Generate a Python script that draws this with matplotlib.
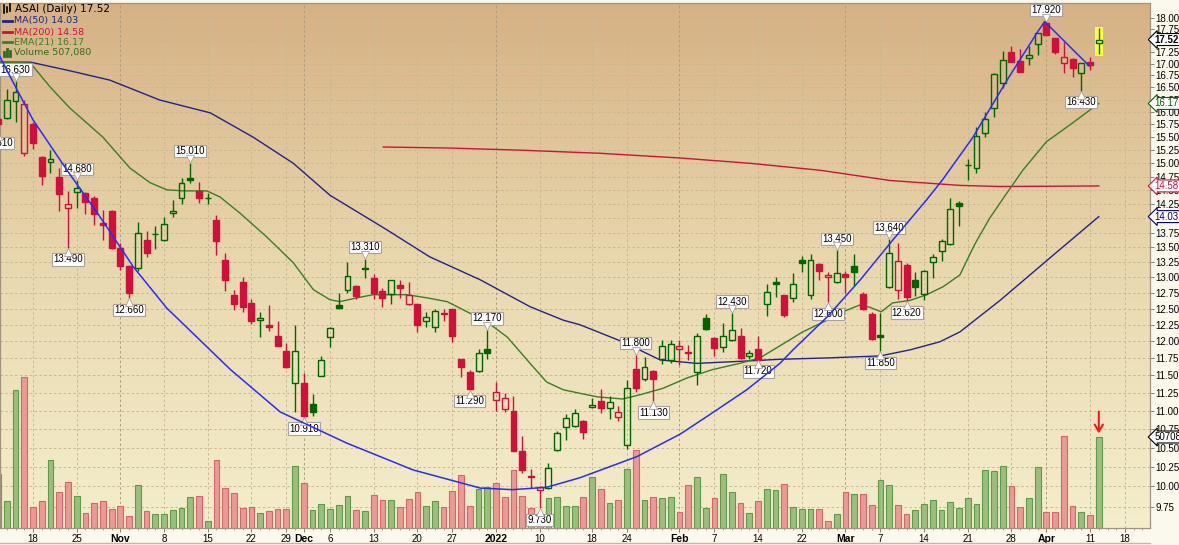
import numpy as np
import matplotlib
matplotlib.use("Agg")
import matplotlib.pyplot as plt
from matplotlib.transforms import blended_transform_factory, offset_copy
from matplotlib.lines import Line2D
from matplotlib.colors import LinearSegmentedColormap
from matplotlib.ticker import NullLocator, NullFormatter

plt.rcParams['font.family'] = ['Liberation Sans', 'DejaVu Sans']

# ---------------- data (trading-day index, 0 = 2021-10-18) ----------------
bar_idx = list(range(-4, 123))
opens = [15.85, 15.87, 16.21, 15.19, 15.76, 15.12, 15.02, 14.75, 14.18, 14.47,
         14.46, 14.36, 13.91, 14.13, 13.48, 13.19, 13.15, 13.62, 13.72, 13.62,
         14.09, 14.37, 14.72, 14.49, 14.36, 13.97, 13.29, 12.72, 12.93, 12.59,
         12.32, 12.25, 12.08, 11.86, 11.38, 11.38, 11.09, 11.49, 12.06, 12.55,
         12.80, 12.86, 13.14, 12.99, 12.78, 12.73, 12.88, 12.58, 12.57, 12.31,
         12.21, 12.43, 12.49, 11.73, 11.54, 11.56, 11.88, 11.14, 11.02, 10.99,
         10.45, 10.13, 9.95, 9.98, 10.47, 10.77, 10.79, 10.85, 11.05, 11.13,
         11.03, 10.91, 10.53, 11.59, 11.44, 11.56, 11.73, 11.72, 11.88, 11.84,
         11.55, 12.36, 12.05, 11.91, 12.01, 12.08, 11.78, 11.88, 12.57, 12.93,
         12.71, 12.66, 13.29, 12.72, 13.22, 13.00, 12.92, 13.05, 13.19, 12.73,
         12.41, 12.09, 12.84, 12.80, 13.20, 12.95, 12.73, 13.25, 13.44, 13.55,
         14.28, 14.96, 14.92, 15.58, 16.08, 16.58, 17.24, 17.05, 17.11, 17.43,
         17.88, 17.55, 17.02, 17.09, 16.80, 17.03, 17.45]
highs = [16.05, 16.46, 16.63, 16.23, 15.80, 15.14, 15.25, 14.91, 14.49, 14.68,
         14.47, 14.39, 14.15, 14.14, 13.57, 13.20, 13.93, 13.78, 13.87, 14.03,
         14.33, 14.72, 15.01, 14.66, 14.45, 14.06, 13.41, 12.79, 13.01, 12.65,
         12.45, 12.56, 12.30, 11.97, 12.25, 11.53, 11.23, 11.78, 12.21, 12.74,
         13.25, 12.87, 13.31, 13.06, 12.82, 12.96, 12.95, 12.92, 12.58, 12.45,
         12.49, 12.49, 12.50, 11.74, 11.58, 11.88, 12.17, 11.40, 11.25, 11.20,
         10.66, 10.22, 10.00, 10.30, 10.72, 10.95, 11.02, 10.87, 11.17, 11.30,
         11.20, 11.06, 11.43, 11.80, 11.76, 11.57, 12.01, 12.01, 12.01, 11.94,
         12.13, 12.41, 12.06, 12.27, 12.43, 12.20, 11.87, 12.08, 12.89, 13.00,
         12.72, 13.07, 13.35, 13.39, 13.24, 13.09, 13.45, 13.11, 13.39, 12.77,
         12.45, 12.43, 13.64, 13.57, 13.23, 13.08, 13.12, 13.39, 13.64, 14.37,
         14.31, 15.08, 15.70, 16.00, 16.79, 17.26, 17.37, 17.31, 17.37, 17.67,
         17.92, 17.56, 17.47, 17.11, 17.02, 17.14, 17.77]
lows = [15.61, 15.85, 15.80, 15.13, 15.28, 14.60, 14.82, 14.12, 13.49, 14.18,
        14.07, 13.89, 13.62, 13.47, 13.12, 12.66, 13.11, 13.34, 13.47, 13.61,
        14.03, 14.25, 14.63, 14.28, 14.25, 13.37, 12.78, 12.48, 12.44, 12.26,
        12.07, 12.16, 11.92, 11.60, 10.98, 10.91, 10.93, 11.48, 11.91, 12.49,
        12.74, 12.65, 12.99, 12.65, 12.52, 12.58, 12.67, 12.55, 12.14, 12.21,
        12.14, 12.31, 11.99, 11.47, 11.29, 11.55, 11.74, 11.00, 10.98, 10.45,
        10.17, 9.98, 9.73, 9.97, 10.45, 10.60, 10.78, 10.62, 11.04, 10.96,
        10.89, 10.85, 10.48, 11.26, 11.42, 11.13, 11.66, 11.67, 11.65, 11.72,
        11.36, 12.17, 11.78, 11.84, 12.00, 11.73, 11.74, 11.72, 12.38, 12.69,
        12.37, 12.61, 13.09, 12.65, 12.95, 12.60, 12.91, 12.75, 12.86, 12.48,
        12.02, 11.85, 12.83, 12.65, 12.62, 12.70, 12.63, 12.99, 13.27, 13.54,
        13.87, 14.69, 14.82, 15.51, 15.90, 16.49, 17.03, 16.82, 16.96, 17.18,
        17.61, 17.20, 16.81, 16.72, 16.43, 16.86, 17.20]
closes = [15.75, 16.25, 16.40, 16.15, 15.38, 14.77, 15.09, 14.43, 14.25, 14.54,
          14.29, 14.07, 13.89, 13.48, 13.18, 12.75, 13.74, 13.40, 13.73, 13.90,
          14.13, 14.63, 14.68, 14.36, 14.37, 13.61, 12.95, 12.57, 12.53, 12.30,
          12.35, 12.21, 11.93, 11.62, 11.85, 10.92, 10.98, 11.72, 12.20, 12.51,
          13.03, 12.70, 13.16, 12.74, 12.66, 12.95, 12.83, 12.72, 12.25, 12.37,
          12.46, 12.42, 12.08, 11.61, 11.30, 11.82, 11.83, 11.26, 11.17, 10.46,
          10.21, 10.12, 9.99, 10.23, 10.70, 10.90, 10.97, 10.71, 11.07, 11.04,
          11.12, 10.98, 11.32, 11.31, 11.62, 11.44, 11.93, 11.95, 11.93, 11.83,
          12.08, 12.18, 11.90, 12.08, 12.17, 11.75, 11.82, 11.72, 12.76, 12.89,
          12.40, 12.89, 13.23, 13.29, 13.11, 13.04, 13.07, 13.01, 13.08, 12.49,
          12.03, 12.06, 13.41, 13.27, 12.69, 12.84, 13.11, 13.34, 13.61, 14.16,
          14.22, 14.97, 15.52, 15.86, 16.78, 17.07, 17.04, 16.83, 17.18, 17.66,
          17.62, 17.25, 17.13, 16.91, 17.01, 16.97, 17.52]
volumes = [301000, 150000, 769000, 843000, 119000, 150000, 379000, 201000, 256000, 178000,
           84000, 139000, 150000, 106000, 123000, 67000, 240000, 95000, 78000, 78000,
           100000, 111000, 173000, 178000, 39000, 379000, 223000, 195000, 111000, 117000,
           84000, 95000, 106000, 106000, 345000, 251000, 100000, 134000, 106000, 128000,
           178000, 100000, 95000, 184000, 156000, 156000, 117000, 162000, 201000, 123000,
           150000, 117000, 206000, 295000, 123000, 217000, 228000, 251000, 173000, 323000,
           178000, 111000, 67000, 167000, 173000, 123000, 123000, 173000, 284000, 217000,
           139000, 156000, 329000, 435000, 156000, 173000, 167000, 173000, 89000, 240000,
           284000, 111000, 167000, 301000, 201000, 139000, 84000, 150000, 217000, 212000,
           245000, 117000, 106000, 106000, 106000, 39000, 78000, 201000, 189000, 189000,
           128000, 267000, 240000, 128000, 78000, 100000, 134000, 156000, 100000, 145000,
           111000, 167000, 134000, 323000, 318000, 345000, 234000, 117000, 167000, 340000,
           89000, 89000, 513000, 123000, 89000, 72000, 507080]

# moving averages (index, value)
ma50_idx = [-3.8, -0.3, 3.9, 8.8, 14.5, 20.3, 25.2, 29.8, 34.0, 40.5, 45.4, 51.2, 56.9,
            60.7, 62.6, 67.5, 71.8, 76.0, 80.9, 85.5, 90.9, 97.0, 100.4, 103.8, 106.1,
            110.7, 116.4, 122]
ma50_val = [17.03, 17.03, 16.86, 16.65, 16.24, 15.98, 15.50, 15.00, 14.41, 13.80, 13.34,
            12.96, 12.53, 12.32, 12.25, 11.99, 11.72, 11.67, 11.70, 11.73, 11.75, 11.78,
            11.87, 11.99, 12.14, 12.63, 13.32, 14.03]
ma200_idx = [40.1, 47.7, 55.7, 64.9, 74.1, 82.1, 90.1, 98.1, 106.1, 110.7, 122]
ma200_val = [15.31, 15.29, 15.25, 15.19, 15.10, 15.00, 14.87, 14.68, 14.59, 14.57, 14.58]
ema21_idx = [-3.8, -0.3, 1.95, 4.2, 8.0, 11.1, 13.4, 15.3, 17.2, 19.9, 21.4, 23.7, 26.8,
             29.8, 32.1, 34.0, 35.1, 37.1, 38.9, 42.8, 45.1, 47.4, 49.7, 52.0, 54.3, 56.9,
             58.8, 60.7, 62.6, 64.6, 67.5, 69.5, 72.1, 74.9, 77.8, 80.9, 83.2, 85.5, 88.1,
             90.9, 92.7, 94.7, 95.8, 97.1, 98.4, 100.4, 102.3, 104.2, 106.1, 107.8, 109.5,
             111.3, 113.3, 116.0, 119.0, 122]
ema21_val = [17.03, 17.01, 16.51, 16.08, 15.50, 14.91, 14.64, 14.51, 14.49, 14.49, 14.38,
             14.09, 13.67, 13.24, 12.80, 12.64, 12.61, 12.67, 12.72, 12.72, 12.67, 12.61,
             12.45, 12.29, 12.06, 11.67, 11.40, 11.29, 11.24, 11.19, 11.16, 11.22, 11.31,
             11.46, 11.58, 11.67, 11.75, 11.93, 12.14, 12.32, 12.45, 12.56, 12.52, 12.45,
             12.59, 12.63, 12.72, 12.85, 13.04, 13.55, 14.00, 14.41, 14.87, 15.41, 15.78,
             16.17]

# user-drawn blue trend curve (index, price)
trend_idx = [-3.8, -1.8, 0.0, 3.9, 7.7, 11.5, 15.3, 22.6, 28.3, 35.9, 43.5, 51.2, 54.9,
             58.8, 62.6, 69.1, 74.1, 77.8, 81.7, 85.5, 87.0, 90.9, 94.7, 98.4, 102.3,
             104.1, 107.6, 111.5, 114.9, 115.8, 120.9]
trend_val = [17.15, 16.44, 15.84, 14.87, 14.02, 13.17, 12.51, 11.58, 10.98, 10.56, 10.21,
             9.98, 9.96, 9.99, 10.11, 10.38, 10.68, 10.97, 11.29, 11.67, 11.87, 12.37,
             12.96, 13.62, 14.33, 14.69, 15.50, 16.65, 17.66, 17.92, 16.95]

# swing high / low labels
label_idx = [-4, -2, 4, 5, 11, 18, 31, 38, 50, 52, 58, 69, 71, 80, 83, 91, 92, 97, 98, 100, 116, 120]
label_val = [15.61, 16.63, 13.49, 14.68, 12.66, 15.01, 10.91, 13.31, 11.29, 12.17, 9.73,
             11.80, 11.13, 12.43, 11.72, 12.60, 13.45, 11.85, 13.64, 12.62, 17.92, 16.43]
label_side = ['l', 'h', 'l', 'h', 'l', 'h', 'l', 'h', 'l', 'h', 'l',
              'h', 'l', 'h', 'l', 'l', 'h', 'l', 'h', 'l', 'h', 'l']

# date axis
tick_idx = [0, 5, 10, 15, 20, 25, 29, 31, 34, 39, 44, 48, 53, 58, 64, 68, 74, 78, 83, 88,
            93, 97, 102, 107, 112, 116, 121, 125]
tick_labels = ['18', '25', 'Nov', '8', '15', '22', '29', 'Dec', '6', '13', '20', '27', '2022',
               '10', '18', '24', 'Feb', '7', '14', '22', 'Mar', '7', '14', '21', '28', 'Apr',
               '11', '18']
month_labels = ['Nov', 'Dec', '2022', 'Feb', 'Mar', 'Apr']
price_levels = [9.75 + 0.25 * k for k in range(34)]

last_close, ma50_last, ma200_last, ema21_last, vol_last = 17.52, 14.03, 14.58, 16.17, 507080

# ---------------- styling ----------------
RED = '#D0103A'
GREEN = '#006400'
NAVY = '#22228C'
EMA_C = '#3A7D24'
BLUE = '#2A2AFF'
VG_FILL, VG_EDGE = '#9BBE7E', '#5E9A48'
VR_FILL, VR_EDGE = '#E99A96', '#D8646A'

W, H = 1179, 545
L, R, T, B = 0, 1150, 3, 528
px = 8.736     # pixels per bar
x0 = 33.0      # pixel of index 0

fig = plt.figure(figsize=(W / 100, H / 100), dpi=100)
fig.patch.set_facecolor('#FBF8EE')
ax2 = fig.add_axes([L / W, 1 - B / H, (R - L) / W, (B - T) / H])
ax = ax2.twinx()

xmin = (L - x0) / px
xmax = (R - x0) / px

# background gradient
cmap = LinearSegmentedColormap.from_list('bg', ['#F4EECC', '#E9D8AF', '#D6B184'])
grad = np.linspace(0, 1, 256).reshape(-1, 1)
ax2.imshow(grad, extent=[0, 1, 0, 1], transform=ax2.transAxes, aspect='auto',
           cmap=cmap, origin='lower', zorder=0)

# price-scale limits (log)
ptop = 18.0 * np.exp((18 - T) / 797.0)
pbot = 18.0 * np.exp(-(B - 18) / 797.0)
ax.set_yscale('log')
ax.set_ylim(pbot, ptop)

# grid (drawn behind the volume bars)
hgrid_tr = blended_transform_factory(ax2.transAxes, ax.transData)
for p in price_levels:
    ax2.plot([0, 1], [p, p], transform=hgrid_tr, color='#C9B791', lw=0.7,
             ls=(0, (2.5, 2.5)), zorder=0.5)
for ti, tl in zip(tick_idx, tick_labels):
    c = '#AD9C7C' if tl in month_labels else '#C9B791'
    ax2.axvline(ti, color=c, lw=0.7, ls=(0, (2.5, 2.5)), zorder=0.5)

# volume bars
vcolors, vedges = [], []
for k in range(len(bar_idx)):
    up = closes[k] >= closes[k - 1] if k > 0 else False
    vcolors.append(VG_FILL if up else VR_FILL)
    vedges.append(VG_EDGE if up else VR_EDGE)
ax2.bar(bar_idx, volumes, width=0.66, color=vcolors, edgecolor=vedges, linewidth=0.8, zorder=2)
vtop = vol_last * (B - T) / (B - 437)
ax2.set_ylim(0, vtop)
ax2.annotate('', xy=(122, vol_last * 1.01), xytext=(122, vol_last * 1.31),
             arrowprops=dict(arrowstyle='->,head_length=0.5,head_width=0.3', color='#FF1010', lw=1.4),
             zorder=5)

# yellow highlight of last bar
ax.bar(122, (highs[-1] + 0.035) - (lows[-1] - 0.035), bottom=lows[-1] - 0.035, width=0.95,
       color='#FFFF3A', zorder=2.5)

# moving averages
ax.plot(ma200_idx, ma200_val, color=RED, lw=1.0, zorder=3)
ax.plot(ma50_idx, ma50_val, color=NAVY, lw=1.0, zorder=3)
ax.plot(ema21_idx, ema21_val, color=EMA_C, lw=1.0, zorder=3)

# candlesticks
bw = 0.68
for k, i in enumerate(bar_idx):
    o, h, l, c = opens[k], highs[k], lows[k], closes[k]
    up = c >= closes[k - 1] if k > 0 else False
    col = GREEN if up else RED
    top, bot = max(o, c), min(o, c)
    hollow = c > o
    ax.vlines(i, top, h, color=col, lw=1.0, zorder=4)
    ax.vlines(i, l, bot, color=col, lw=1.0, zorder=4)
    hgt = max(top - bot, 0.004)
    ax.bar(i, hgt, bottom=bot, width=bw, facecolor='none' if hollow else col,
           edgecolor=col, linewidth=1.0, zorder=4.5)

# swing labels
for li, lv, side in zip(label_idx, label_val, label_side):
    sgn = 1 if side == 'h' else -1
    trb = offset_copy(ax.transData, fig=fig, x=0, y=sgn * 11.5, units='dots')
    ax.text(li, lv, f"{lv:.3f}", transform=trb, ha='center', va='center', fontsize=7,
            color='black', bbox=dict(boxstyle='square,pad=0.12', fc='white', ec='#A9A29A', lw=0.8),
            zorder=6, clip_on=True)
    trp = offset_copy(ax.transData, fig=fig, x=0, y=sgn * 4.0, units='dots')
    ax.plot([li], [lv], marker='v' if side == 'h' else '^', ms=5.5, mfc='white', mec='#A9A29A',
            mew=0.6, transform=trp, zorder=7, clip_on=True)

# blue trend curve on top
ax.plot(trend_idx, trend_val, color=BLUE, lw=1.1, zorder=8)

# axes / ticks
ax2.set_xlim(xmin, xmax)
ax.set_xlim(xmin, xmax)
ax2.yaxis.set_visible(False)
ax.yaxis.tick_right()
ax.set_yticks(price_levels)
ax.set_yticklabels([f"{p:.2f}" for p in price_levels])
ax.yaxis.set_minor_locator(NullLocator())
ax.yaxis.set_minor_formatter(NullFormatter())
ax.tick_params(axis='y', which='major', length=3, width=0.7, pad=0.8, labelsize=7,
               colors='#8C8070', labelcolor='black')

ax2.set_xticks(tick_idx)
ax2.set_xticklabels(tick_labels)
ax2.set_xticks(range(-3, 128), minor=True)
ax2.tick_params(axis='x', which='major', length=3, width=0.7, pad=1.5, labelsize=7,
                colors='#8C8070', labelcolor='black')
ax2.tick_params(axis='x', which='minor', length=1.5, width=0.5, colors='#8C8070')
for t in ax2.get_xticklabels():
    if t.get_text() in month_labels:
        t.set_fontweight('bold')
        t.set_fontsize(7.5)

for a in (ax, ax2):
    for s in a.spines.values():
        s.set_color('#A0927C')
        s.set_linewidth(0.8)

# right-axis value tags
tag_tr = blended_transform_factory(ax.transAxes, ax.transData)
tags = [(last_close, f"{last_close:.2f}", 'black', 'bold'),
        (ema21_last, f"{ema21_last:.2f}", GREEN, 'normal'),
        (ma200_last, f"{ma200_last:.2f}", RED, 'normal'),
        (ma50_last, f"{ma50_last:.2f}", '#000080', 'normal')]
for val, txt, col, wt in tags:
    ax.text(1154.5 / 1150, val, txt, transform=tag_tr, ha='left', va='center', fontsize=7,
            color=col, fontweight=wt, zorder=20, clip_on=False,
            bbox=dict(boxstyle='larrow,pad=0.1', fc='white', ec=col, lw=0.8))
vtag_tr = blended_transform_factory(ax.transAxes, ax2.transData)
ax.text(1154.5 / 1150, vol_last, str(vol_last)[:5], transform=vtag_tr, ha='left', va='center',
        fontsize=7, color='black', zorder=20, clip_on=False,
        bbox=dict(boxstyle='larrow,pad=0.1', fc='white', ec='black', lw=0.8))

# bottom separator line
fig.add_artist(Line2D([0, R / W], [1 - 543 / H, 1 - 543 / H], color='#CDB894', lw=1.0))

# legend block (top-left)
def fx(x):
    return x / W

def fy(y):
    return 1 - y / H

fig.text(fx(15), fy(9), f"ASAI (Daily) {last_close:.2f}", fontsize=7.5, va='center', ha='left',
         color='black', family='DejaVu Sans', zorder=30)
for xx, y1, y2 in [(4, 5, 13), (7, 7, 12), (10, 4, 11)]:
    fig.add_artist(Line2D([fx(xx), fx(xx)], [fy(y1), fy(y2)], color='black', lw=1.2, zorder=30))
legend_rows = [(21, f"MA(50) {ma50_last:.2f}", NAVY),
               (32, f"MA(200) {ma200_last:.2f}", RED),
               (42, f"EMA(21) {ema21_last:.2f}", EMA_C)]
for yy, txt, col in legend_rows:
    fig.add_artist(Line2D([fx(3), fx(12)], [fy(yy), fy(yy)], color=col, lw=2.0, zorder=30))
    fig.text(fx(14), fy(yy), txt, fontsize=6.8, va='center', ha='left', color=col,
             family='DejaVu Sans', zorder=30)
for xx, hh in [(4, 4), (7, 7), (10, 5)]:
    fig.add_artist(Line2D([fx(xx), fx(xx)], [fy(56), fy(56 - hh)], color='#2F6E1E', lw=2.0, zorder=30))
fig.text(fx(14), fy(52), f"Volume {vol_last:,}", fontsize=6.8, va='center', ha='left',
         color='#2F6E1E', family='DejaVu Sans', zorder=30)

fig.savefig('out.png', dpi=100, facecolor=fig.get_facecolor())
